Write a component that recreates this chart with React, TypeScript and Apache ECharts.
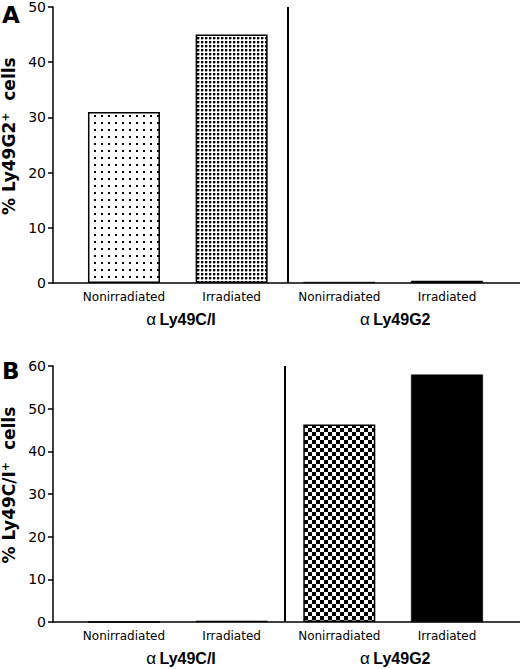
import React, { useEffect, useRef } from 'react';
import * as echarts from 'echarts';

// ---- data ----
const categories = ['Nonirradiated', 'Irradiated', 'Nonirradiated', 'Irradiated'];
const groupPrefix = 'α';
const groupNames = ['Ly49C/I', 'Ly49G2'];
const groupPositions = [0.53, 2.52];
const panelAValues = [31, 45, 0.2, 0.4];
const panelBValues = [0, 0.3, 46.3, 58];
const panelAFills = ['sparse', 'dense', 'solid', 'solid'];
const panelBFills = ['sparse', 'solid', 'checker', 'solid'];
const panelAMax = 50;
const panelBMax = 60;
const yInterval = 10;
const separatorA = 1.52;
const separatorB = 1.49;
const panelAName = '   % Ly49G2{sup|+}  cells';
const panelBName = '   % Ly49C/I{sup|+}  cells';
const panelLetters = ['A', 'B'];

const X_MIN = -0.659;
const X_MAX = 3.678;

function makePattern(kind: string): any {
  if (kind === 'solid') return '#000';
  const c = document.createElement('canvas');
  let size = 4;
  if (kind === 'sparse') size = 7;
  if (kind === 'dense') size = 4;
  if (kind === 'checker') size = 8;
  c.width = size;
  c.height = size;
  const ctx = c.getContext('2d')!;
  ctx.fillStyle = '#fff';
  ctx.fillRect(0, 0, size, size);
  ctx.fillStyle = '#000';
  if (kind === 'sparse') {
    ctx.fillRect(3, 3, 2, 2);
  } else if (kind === 'dense') {
    ctx.fillRect(1, 1, 2, 2);
    ctx.fillStyle = 'rgba(0,0,0,0.35)';
    ctx.fillRect(3, 1, 1, 2);
    ctx.fillRect(1, 3, 2, 1);
  } else if (kind === 'checker') {
    ctx.fillRect(0, 0, 4, 4);
    ctx.fillRect(4, 4, 4, 4);
  }
  return { image: c, repeat: 'repeat', imageWidth: size, imageHeight: size };
}

const FONT = 'DejaVu Sans';

function xAxes(gridIndex: number) {
  return [
    {
      gridIndex,
      type: 'value',
      min: X_MIN,
      max: X_MAX,
      position: 'bottom',
      axisLine: { show: true, onZero: false, lineStyle: { color: '#000', width: 1.5 } },
      axisTick: { show: false },
      splitLine: { show: false },
      axisLabel: {
        customValues: [0, 1, 2, 3],
        formatter: (v: number) => categories[Math.round(v)] ?? '',
        fontFamily: FONT,
        fontSize: 12,
        color: '#000',
        margin: 8,
      },
    },
    {
      gridIndex,
      type: 'value',
      min: X_MIN,
      max: X_MAX,
      position: 'bottom',
      axisLine: { show: false, onZero: false },
      axisTick: { show: false },
      splitLine: { show: false },
      axisLabel: {
        customValues: groupPositions,
        formatter: (v: number) =>
          '{a|' + groupPrefix + '} {b|' + groupNames[v < 1.5 ? 0 : 1] + '}',
        margin: 28,
        rich: {
          a: { fontFamily: 'Liberation Sans', fontSize: 17, color: '#000' },
          b: { fontFamily: 'Liberation Sans', fontSize: 16, fontWeight: 'bold', color: '#000' },
        },
      },
    },
  ];
}

function yAxis(gridIndex: number, max: number, name: string) {
  return {
    gridIndex,
    type: 'value',
    min: 0,
    max,
    interval: yInterval,
    axisLine: { show: true, onZero: false, lineStyle: { color: '#000', width: 1.5 } },
    axisTick: { show: true, length: 5, lineStyle: { color: '#000', width: 1.5 } },
    splitLine: { show: false },
    axisLabel: { fontFamily: FONT, fontSize: 14, color: '#000', margin: 7 },
    name,
    nameLocation: 'middle',
    nameRotate: 90,
    nameGap: 35,
    nameTextStyle: {
      fontFamily: FONT,
      fontWeight: 'bold',
      fontSize: 17,
      color: '#000',
      rich: {
        sup: { fontFamily: FONT, fontWeight: 'bold', fontSize: 11, color: '#000', verticalAlign: 'top' },
      },
    },
  };
}

function barSeries(idx: number, values: number[], fills: string[], sep: number) {
  return {
    type: 'bar',
    xAxisIndex: idx * 2,
    yAxisIndex: idx,
    barWidth: 72,
    silent: true,
    data: values.map((v, i) => ({
      value: [i, v],
      itemStyle: {
        color: makePattern(fills[i]),
        borderColor: '#000',
        borderWidth: fills[i] === 'solid' ? 0.5 : 1.5,
      },
    })),
    markLine: {
      silent: true,
      symbol: 'none',
      label: { show: false },
      lineStyle: { color: '#000', width: 2, type: 'solid' },
      emphasis: { disabled: true },
      data: [{ xAxis: sep }],
    },
  };
}

export default function App() {
  const ref = useRef<HTMLDivElement>(null);
  useEffect(() => {
    if (!ref.current) return;
    const chart = echarts.init(ref.current, null, { renderer: 'svg' });
    chart.setOption({
      animation: false,
      backgroundColor: '#fff',
      title: [
        {
          text: panelLetters[0],
          left: 2,
          top: 3,
          padding: 0,
          textStyle: { fontFamily: FONT, fontWeight: 'bold', fontSize: 23, color: '#000' },
        },
        {
          text: panelLetters[1],
          left: 2,
          top: 359,
          padding: 0,
          textStyle: { fontFamily: FONT, fontWeight: 'bold', fontSize: 23, color: '#000' },
        },
      ],
      grid: [
        { left: 53, top: 7, width: 467, height: 276, outerBoundsMode: 'none', containLabel: false },
        { left: 53, top: 366, width: 467, height: 256, outerBoundsMode: 'none', containLabel: false },
      ],
      xAxis: [...xAxes(0), ...xAxes(1)],
      yAxis: [yAxis(0, panelAMax, panelAName), yAxis(1, panelBMax, panelBName)],
      series: [
        barSeries(0, panelAValues, panelAFills, separatorA),
        barSeries(1, panelBValues, panelBFills, separatorB),
      ],
    });
    return () => chart.dispose();
  }, []);
  return (
    <div
      ref={ref}
      style={{ position: 'absolute', left: 0, top: 0, width: 520, height: 669, background: '#fff' }}
    />
  );
}
